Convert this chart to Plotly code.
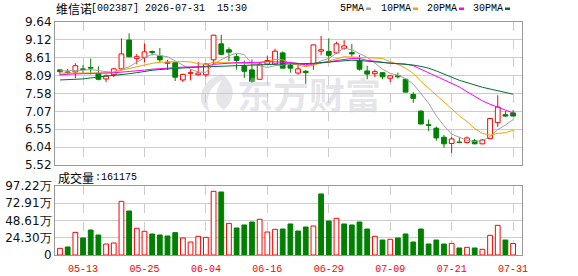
import plotly.graph_objects as go

# ---------------- data ----------------
dates = ["05-08", "05-11", "05-12", "05-13", "05-14", "05-15", "05-18", "05-19", "05-20", "05-21",
         "05-22", "05-25", "05-26", "05-27", "05-28", "05-29", "06-01", "06-02", "06-03", "06-04",
         "06-05", "06-08", "06-09", "06-10", "06-11", "06-12", "06-15", "06-16", "06-17", "06-18",
         "06-22", "06-23", "06-24", "06-25", "06-26", "06-29", "06-30", "07-01", "07-02", "07-03",
         "07-06", "07-07", "07-08", "07-09", "07-10", "07-13", "07-14", "07-15", "07-16", "07-17",
         "07-20", "07-21", "07-22", "07-23", "07-24", "07-27", "07-28", "07-29", "07-30", "07-31"]

opens = [8.26, 8.20, 8.20, 8.29, 8.33, 8.16, 8.00, 8.12, 8.29, 9.12,
         8.59, 8.62, 8.79, 8.66, 8.45, 8.47, 7.97, 8.16, 8.12, 8.12,
         8.55, 9.01, 8.84, 8.64, 8.37, 8.26, 7.99, 8.43, 8.43, 8.75,
         8.39, 8.17, 8.22, 8.41, 8.80, 8.79, 8.75, 8.88, 8.76, 8.53,
         8.23, 8.15, 8.18, 8.02, 8.09, 7.99, 7.55, 7.07, 6.68, 6.58,
         6.32, 6.14, 6.18, 6.17, 6.22, 6.13, 6.28, 6.74, 6.97, 7.02]
highs = [8.27, 8.29, 8.45, 8.40, 8.59, 8.36, 8.13, 8.32, 9.17, 9.31,
         8.72, 9.02, 8.82, 8.89, 8.55, 8.47, 8.15, 8.28, 8.49, 8.45,
         9.27, 9.27, 8.91, 8.72, 8.53, 8.56, 8.48, 8.67, 8.87, 8.79,
         8.48, 8.46, 8.26, 8.99, 9.24, 9.17, 9.07, 9.12, 9.01, 8.69,
         8.38, 8.27, 8.18, 8.12, 8.18, 8.01, 7.62, 7.10, 6.83, 6.63,
         6.38, 6.33, 6.31, 6.34, 6.27, 6.26, 6.87, 7.53, 7.07, 7.10]
lows = [8.10, 8.15, 8.02, 8.17, 8.13, 7.96, 7.91, 8.05, 8.24, 8.62,
        8.42, 8.48, 8.68, 8.48, 8.26, 7.94, 7.91, 7.96, 8.10, 8.05,
        8.43, 8.68, 8.51, 8.27, 8.03, 7.89, 7.99, 8.40, 8.41, 8.31,
        8.18, 8.12, 7.86, 8.26, 8.68, 8.51, 8.72, 8.84, 8.64, 8.24,
        7.99, 8.05, 7.99, 7.91, 8.01, 7.62, 7.31, 6.70, 6.50, 6.22,
        6.02, 5.87, 6.16, 6.14, 6.12, 6.12, 6.28, 6.62, 6.91, 6.93]
closes = [8.21, 8.18, 8.38, 8.27, 8.31, 7.99, 8.09, 8.29, 8.72, 8.64,
          8.64, 8.78, 8.76, 8.55, 8.48, 8.05, 8.13, 8.18, 8.17, 8.43,
          9.26, 8.71, 8.77, 8.53, 8.22, 7.93, 8.43, 8.53, 8.80, 8.31,
          8.31, 8.29, 8.18, 8.98, 8.84, 8.68, 9.01, 8.95, 8.72, 8.28,
          8.14, 8.21, 8.06, 8.09, 8.06, 7.62, 7.44, 6.70, 6.66, 6.30,
          6.13, 6.27, 6.17, 6.30, 6.13, 6.24, 6.86, 7.19, 6.93, 6.93]

# volume in 万 (10k lots)
volumes = [9.4, 11.3, 31.9, 24.0, 35.2, 28.2, 15.5, 16.9, 75.6, 62.0,
           37.6, 33.4, 29.6, 28.2, 26.8, 31.5, 24.0, 18.3, 26.3, 24.9,
           89.7, 88.8, 44.6, 38.0, 42.3, 46.5, 50.3, 32.4, 36.2, 36.6,
           43.7, 33.8, 39.5, 40.9, 86.0, 47.9, 51.7, 43.7, 42.3, 46.5,
           36.6, 26.3, 21.1, 22.1, 24.0, 29.6, 18.3, 36.6, 15.5, 21.1,
           15.5, 16.4, 9.9, 10.8, 9.9, 8.0, 27.7, 41.8, 21.1, 16.12]
vol_up = [1, 0, 1, 0, 0, 0, 1, 1, 1, 0,
          1, 1, 0, 0, 0, 0, 1, 1, 1, 1,
          1, 0, 1, 0, 0, 0, 1, 1, 1, 0,
          0, 0, 0, 1, 0, 0, 1, 0, 0, 0,
          0, 1, 0, 1, 0, 0, 0, 0, 0, 0,
          0, 1, 0, 1, 0, 1, 1, 1, 0, 1]

ma5 = [8.23, 8.23, 8.24, 8.25, 8.27, 8.23, 8.21, 8.19, 8.28, 8.35,
       8.48, 8.61, 8.71, 8.67, 8.64, 8.52, 8.39, 8.28, 8.20, 8.19,
       8.43, 8.55, 8.67, 8.74, 8.70, 8.43, 8.38, 8.33, 8.38, 8.40,
       8.48, 8.45, 8.38, 8.41, 8.52, 8.59, 8.74, 8.89, 8.84, 8.73,
       8.62, 8.46, 8.28, 8.16, 8.11, 8.01, 7.85, 7.58, 7.30, 6.94,
       6.65, 6.41, 6.31, 6.23, 6.20, 6.22, 6.34, 6.54, 6.67, 6.83]
ma10 = [8.17, 8.17, 8.17, 8.18, 8.18, 8.17, 8.17, 8.20, 8.25, 8.31,
        8.35, 8.41, 8.45, 8.48, 8.49, 8.50, 8.50, 8.49, 8.44, 8.42,
        8.48, 8.47, 8.47, 8.47, 8.45, 8.43, 8.46, 8.50, 8.56, 8.55,
        8.45, 8.41, 8.35, 8.40, 8.46, 8.54, 8.59, 8.64, 8.63, 8.62,
        8.61, 8.60, 8.59, 8.50, 8.42, 8.31, 8.16, 7.93, 7.73, 7.53,
        7.33, 7.13, 6.94, 6.77, 6.57, 6.43, 6.38, 6.43, 6.45, 6.52]
ma20 = [8.12, 8.14, 8.145, 8.15, 8.15, 8.16, 8.17, 8.175, 8.19, 8.21,
        8.22, 8.255, 8.28, 8.30, 8.32, 8.33, 8.34, 8.345, 8.35, 8.36,
        8.42, 8.44, 8.46, 8.47, 8.47, 8.47, 8.48, 8.50, 8.50, 8.48,
        8.47, 8.44, 8.41, 8.44, 8.45, 8.48, 8.53, 8.57, 8.59, 8.59,
        8.53, 8.51, 8.47, 8.45, 8.44, 8.43, 8.38, 8.28, 8.18, 8.08,
        7.97, 7.87, 7.77, 7.63, 7.50, 7.37, 7.27, 7.18, 7.09, 7.02]
ma30 = [7.97, 7.975, 7.98, 8.00, 8.03, 8.05, 8.07, 8.09, 8.12, 8.15,
        8.18, 8.22, 8.25, 8.27, 8.29, 8.31, 8.32, 8.33, 8.34, 8.35,
        8.36, 8.37, 8.38, 8.39, 8.395, 8.40, 8.405, 8.41, 8.42, 8.43,
        8.43, 8.43, 8.43, 8.45, 8.47, 8.49, 8.52, 8.54, 8.54, 8.53,
        8.51, 8.50, 8.47, 8.46, 8.44, 8.43, 8.40, 8.36, 8.31, 8.23,
        8.13, 8.05, 7.96, 7.89, 7.82, 7.76, 7.71, 7.66, 7.60, 7.56]

price_ticklabels = ["5.52", "6.04", "6.55", "7.07", "7.58", "8.09", "8.61", "9.12", "9.64"]
vol_ticklabels = ["0", "24.30万", "48.61万", "72.91万", "97.22万"]
x_ticklabels = ["05-13", "05-25", "06-04", "06-16", "06-29", "07-09", "07-21", "07-31"]
stock_name = "维信诺"
title_rest = "[002387] 2026-07-31  15:30"
vol_title = "成交量"
vol_last = ":161175"
ma_names = ["5PMA", "10PMA", "20PMA", "30PMA"]
watermark = "东方财富"

# ---------------- styling / layout ----------------
W, H = 578, 276
ML, MR, MT, MB = 55, 56, 22, 21
PW, PH = W - ML - MR, H - MT - MB
P_MIN, P_MAX = 5.52, 9.64
V_MAX = 97.22

RED = "#ff0000"
GREEN = "#008000"
MA_COLORS = ["#a0a0a0", "#f5a000", "#ff00ff", "#006e3a"]
MONO = "Liberation Mono, DejaVu Sans Mono, monospace"
CJK = "Noto Sans CJK SC, sans-serif"
NUMF = "DejaVu Sans, Liberation Sans, sans-serif"


def px(x):
    return (x - ML) / PW


def py(y):
    return (H - MB - y) / PH


fig = go.Figure()

up_idx = [i for i in range(len(dates)) if closes[i] >= opens[i]]
dn_idx = [i for i in range(len(dates)) if closes[i] < opens[i]]


def body(idx):
    xs = [dates[i] for i in idx]
    base = [min(opens[i], closes[i]) for i in idx]
    hgt = [max(abs(closes[i] - opens[i]), 0.004) for i in idx]
    return xs, base, hgt


xs, base, hgt = body(up_idx)
fig.add_trace(go.Bar(x=xs, y=hgt, base=base, width=0.62, marker=dict(color="white", line=dict(color=RED, width=1)),
                     xaxis="x", yaxis="y"))
xs, base, hgt = body(dn_idx)
fig.add_trace(go.Bar(x=xs, y=hgt, base=base, width=0.62, marker=dict(color=GREEN, line=dict(color=GREEN, width=1)),
                     xaxis="x", yaxis="y"))

# wicks
wx_up, wy_up, wx_dn, wy_dn = [], [], [], []
for i in range(len(dates)):
    lo_b, hi_b = min(opens[i], closes[i]), max(opens[i], closes[i])
    if closes[i] >= opens[i]:
        wx_up += [dates[i], dates[i], None, dates[i], dates[i], None]
        wy_up += [lows[i], lo_b, None, hi_b, highs[i], None]
    else:
        wx_dn += [dates[i], dates[i], None]
        wy_dn += [lows[i], highs[i], None]
fig.add_trace(go.Scatter(x=wx_up, y=wy_up, mode="lines", line=dict(color=RED, width=1), xaxis="x", yaxis="y"))
fig.add_trace(go.Scatter(x=wx_dn, y=wy_dn, mode="lines", line=dict(color=GREEN, width=1), xaxis="x", yaxis="y"))

for ma, col in zip([ma5, ma10, ma20, ma30], MA_COLORS):
    fig.add_trace(go.Scatter(x=dates, y=ma, mode="lines", line=dict(color=col, width=1), xaxis="x", yaxis="y"))

vu = [i for i in range(len(dates)) if vol_up[i]]
vd = [i for i in range(len(dates)) if not vol_up[i]]
fig.add_trace(go.Bar(x=[dates[i] for i in vu], y=[volumes[i] for i in vu], width=0.62,
                     marker=dict(color="white", line=dict(color=RED, width=1)), xaxis="x2", yaxis="y2"))
fig.add_trace(go.Bar(x=[dates[i] for i in vd], y=[volumes[i] for i in vd], width=0.62,
                     marker=dict(color=GREEN, line=dict(color=GREEN, width=1)), xaxis="x2", yaxis="y2"))

xr = [-0.65, 60.16]
axis_common = dict(type="category", categoryorder="array", categoryarray=dates, range=xr,
                   tickmode="array", tickvals=x_ticklabels, ticktext=x_ticklabels,
                   showgrid=True, gridcolor="#cccccc", griddash="dash", gridwidth=1,
                   showline=True, mirror=True, linecolor="#999999", linewidth=1, zeroline=False,
                   fixedrange=True, automargin=False)

p_vals = [P_MIN + k * (P_MAX - P_MIN) / 8 for k in range(9)]
v_vals = [k * V_MAX / 4 for k in range(5)]

fig.update_layout(
    width=W, height=H, margin=dict(l=ML, r=MR, t=MT, b=MB, pad=0, autoexpand=False),
    paper_bgcolor="white", plot_bgcolor="white",
    showlegend=False, barmode="overlay", hovermode=False,
    xaxis=dict(**axis_common, domain=[0, 1], anchor="y", showticklabels=False, ticks=""),
    xaxis2=dict(**axis_common, domain=[0, 1], anchor="y2", showticklabels=True,
                ticks="outside", ticklen=4, tickcolor="rgba(0,0,0,0)",
                tickfont=dict(family=MONO, size=10, color=RED)),
    yaxis=dict(domain=[py(165), 1], range=[P_MIN, P_MAX], tickmode="array", tickvals=p_vals,
               ticktext=price_ticklabels, showgrid=True, gridcolor="#cccccc", gridwidth=1,
               showline=True, mirror=True, linecolor="#999999", zeroline=False, ticks="", automargin=False,
               tickfont=dict(family=NUMF, size=12, color="#111111")),
    yaxis2=dict(domain=[0, py(186)], range=[0, V_MAX], tickmode="array", tickvals=v_vals,
                ticktext=vol_ticklabels, showgrid=True, gridcolor="#cccccc", gridwidth=1,
                showline=True, mirror=True, linecolor="#999999", zeroline=False, ticks="", automargin=False,
                tickfont=dict(family=NUMF, size=12, color="#111111")),
)

ann = []
ann.append(dict(text=stock_name, x=px(55), y=py(9), xref="paper", yref="paper", xanchor="left", yanchor="middle",
                showarrow=False, font=dict(family=CJK, size=12, color="black"), borderpad=0))
ann.append(dict(text=title_rest, x=px(90), y=py(9), xref="paper", yref="paper", xanchor="left", yanchor="middle",
                showarrow=False, font=dict(family=MONO, size=10, color="black"), borderpad=0))
ann.append(dict(text=vol_title, x=px(57), y=py(177), xref="paper", yref="paper", xanchor="left", yanchor="middle",
                showarrow=False, font=dict(family=CJK, size=12, color="black"), borderpad=0))
ann.append(dict(text=vol_last, x=px(94), y=py(177), xref="paper", yref="paper", xanchor="left", yanchor="middle",
                showarrow=False, font=dict(family=MONO, size=10, color="black"), borderpad=0))

legend_text_x = [339, 380, 426, 472]
legend_mark_x = [366, 413, 459, 505]
shapes = []
for name, tx, mx, col in zip(ma_names, legend_text_x, legend_mark_x, MA_COLORS):
    ann.append(dict(text=name, x=px(tx), y=py(9), xref="paper", yref="paper", xanchor="left", yanchor="middle",
                    showarrow=False, font=dict(family=MONO, size=10, color="black"), borderpad=0))
    shapes.append(dict(type="rect", xref="paper", yref="paper", x0=px(mx), x1=px(mx + 5), y0=py(10), y1=py(7.5),
                       fillcolor=col, line=dict(width=0)))

ann.append(dict(text="<b>" + watermark + "</b>", x=px(309), y=py(93), xref="paper", yref="paper",
                xanchor="center", yanchor="middle", showarrow=False,
                font=dict(family=CJK, size=36, color="rgba(200,200,208,0.45)")))


def P(x, y):
    return f"{px(x):.4f},{py(y):.4f}"


logo = ("M " + P(222, 74) + " C " + P(200, 80) + " " + P(194, 104) + " " + P(210, 112) +
        " C " + P(204, 100) + " " + P(210, 86) + " " + P(222, 80) +
        " C " + P(214, 92) + " " + P(214, 104) + " " + P(224, 110) +
        " C " + P(236, 100) + " " + P(236, 84) + " " + P(222, 74) + " Z")
shapes.append(dict(type="path", xref="paper", yref="paper", path=logo, fillcolor="rgba(200,200,208,0.45)",
                   line=dict(width=0), layer="above"))

fig.update_layout(annotations=ann, shapes=shapes)

fig.write_html("out.html")
